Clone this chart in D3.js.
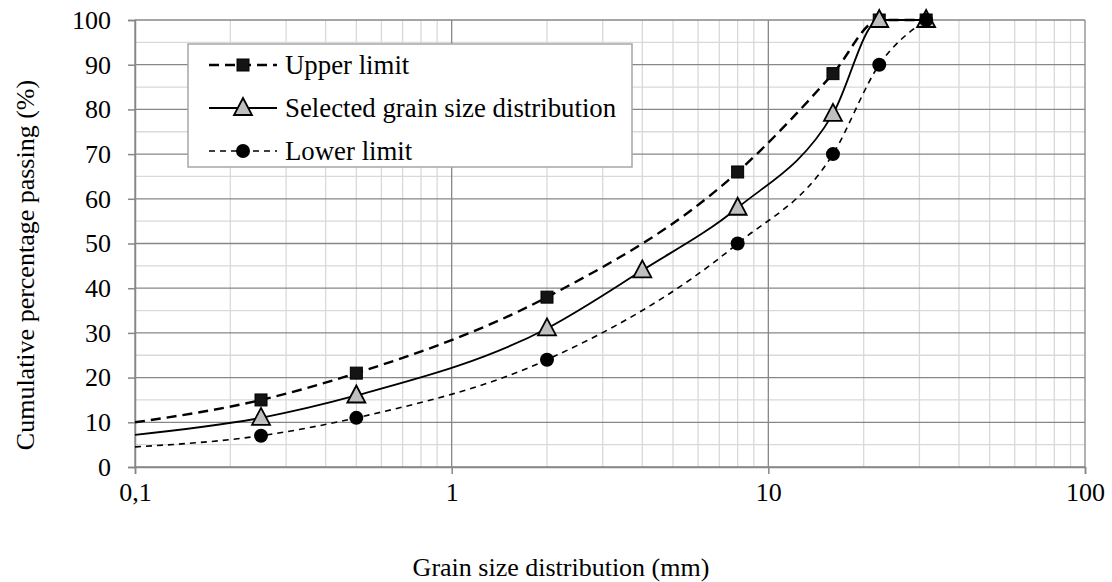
<!DOCTYPE html>
<html>
<head>
<meta charset="utf-8">
<script src="https://cdn.jsdelivr.net/npm/d3@7"></script>
<style>
  body { margin: 0; background: #fff; }
</style>
</head>
<body>
<svg width="1112" height="582"></svg>
<script>
// sieve sizes (mm) and percentages passing
var upperSizes = [0.25, 0.5, 2, 8, 16, 22.4, 31.5];
var upperValues = [15, 21, 38, 66, 88, 100, 100];
var selSizes = [0.25, 0.5, 2, 4, 8, 16, 22.4, 31.5];
var selValues = [11, 16, 31, 44, 58, 79, 100, 100];
var lowerSizes = [0.25, 0.5, 2, 8, 16, 22.4, 31.5];
var lowerValues = [7, 11, 24, 50, 70, 90, 100];
// where each curve enters the chart at 0.1 mm (no marker drawn there)
var startSize = 0.1;
var startValues = [10, 7.2, 4.5];

var xTicks = [0.1, 1, 10, 100];
var yTicks = [0, 10, 20, 30, 40, 50, 60, 70, 80, 90, 100];
var legendLabels = ["Upper limit", "Selected grain size distribution", "Lower limit"];

var svg = d3.select("svg");

var pLeft = 135, pRight = 1085, pTop = 20, pBottom = 467;
var fontSize = 26;
var fontFam = "Liberation Serif";

var xScale = d3.scaleLog().base(10)
      .domain([0.1, 100])
      .range([pLeft, pRight]);
var yScale = d3.scaleLinear()
      .domain([0, 100])
      .range([pBottom, pTop]);

var major = "#878787", minor = "#d9d9d9";

// minor grid
svg.append("g").selectAll("line")
      .data(xScale.ticks().filter(d => xTicks.indexOf(d) < 0))
      .enter().append("line")
      .attr("x1", d => xScale(d)).attr("x2", d => xScale(d))
      .attr("y1", pTop).attr("y2", pBottom)
      .attr("stroke", minor).attr("stroke-width", 1.3);
svg.append("g").selectAll("line")
      .data(d3.range(5, 100, 10))
      .enter().append("line")
      .attr("x1", pLeft).attr("x2", pRight)
      .attr("y1", d => yScale(d)).attr("y2", d => yScale(d))
      .attr("stroke", minor).attr("stroke-width", 1.3);

// major grid
svg.append("g").selectAll("line")
      .data(xTicks)
      .enter().append("line")
      .attr("x1", d => xScale(d)).attr("x2", d => xScale(d))
      .attr("y1", pTop).attr("y2", pBottom)
      .attr("stroke", major).attr("stroke-width", 1.3);
svg.append("g").selectAll("line")
      .data(yTicks)
      .enter().append("line")
      .attr("x1", pLeft).attr("x2", pRight)
      .attr("y1", d => yScale(d)).attr("y2", d => yScale(d))
      .attr("stroke", major).attr("stroke-width", 1.3);

var fmt = d => String(d).replace(".", ",");

var xAxis = d3.axisBottom(xScale)
      .tickValues(xTicks)
      .tickFormat(fmt)
      .tickSize(7).tickPadding(9);
var yAxis = d3.axisLeft(yScale)
      .tickValues(yTicks)
      .tickSize(7).tickPadding(17);

var gx = svg.append("g")
      .attr("transform", "translate(0," + pBottom + ")")
      .call(xAxis);
var gy = svg.append("g")
      .attr("transform", "translate(" + pLeft + ",0)")
      .call(yAxis);
[gx, gy].forEach(function (g) {
  g.attr("font-family", fontFam).attr("font-size", fontSize);
  g.select(".domain").attr("stroke", major).attr("stroke-width", 1.5);
  g.selectAll(".tick line").attr("stroke", major).attr("stroke-width", 1.5);
  g.selectAll(".tick text").attr("fill", "#000");
});

// curves
var line = d3.line()
      .x(d => xScale(d[0]))
      .y(d => yScale(d[1]))
      .curve(d3.curveMonotoneX);

var series = [
  { sizes: upperSizes, values: upperValues, start: startValues[0], dash: "10,6", width: 2.4 },
  { sizes: selSizes, values: selValues, start: startValues[1], dash: null, width: 1.8 },
  { sizes: lowerSizes, values: lowerValues, start: startValues[2], dash: "6,5", width: 1.6 }
];

series.forEach(function (s) {
  var pts = [[startSize, s.start]].concat(s.sizes.map((x, i) => [x, s.values[i]]));
  svg.append("path")
    .datum(pts)
    .attr("d", line)
    .attr("fill", "none")
    .attr("stroke", "#000")
    .attr("stroke-width", s.width)
    .attr("stroke-dasharray", s.dash);
});

function drawSquare(g, x, y) {
  g.append("rect").attr("x", x - 6).attr("y", y - 6)
    .attr("width", 12).attr("height", 12)
    .attr("fill", "#141414").attr("stroke", "#000").attr("stroke-width", 1);
}
function drawTriangle(g, x, y) {
  g.append("path")
    .attr("d", "M" + x + "," + (y - 10) + "L" + (x + 9) + "," + (y + 7) + "L" + (x - 9) + "," + (y + 7) + "Z")
    .attr("fill", "#bfbfbf").attr("stroke", "#000").attr("stroke-width", 1.8);
}
function drawCircle(g, x, y) {
  g.append("circle").attr("cx", x).attr("cy", y).attr("r", 7)
    .attr("fill", "#000");
}

var markerFns = [drawSquare, drawTriangle, drawCircle];
var mg = svg.append("g");
series.forEach(function (s, k) {
  s.sizes.forEach(function (x, i) {
    markerFns[k](mg, xScale(x), yScale(s.values[i]));
  });
});

// axis titles
svg.append("text")
  .attr("transform", "translate(25,265) rotate(-90)")
  .attr("text-anchor", "middle")
  .attr("dy", "0.33em")
  .text("Cumulative percentage passing (%)");
svg.append("text")
  .attr("x", 561)
  .attr("y", 567)
  .attr("text-anchor", "middle")
  .attr("dy", "0.33em")
  .text("Grain size distribution (mm)");

svg.selectAll("text")
  .attr("font-family", fontFam)
  .attr("font-size", fontSize)
  .attr("fill", "#000");

// legend
var lg = svg.append("g");
lg.append("rect")
  .attr("x", 188).attr("y", 44).attr("width", 444).attr("height", 123)
  .attr("fill", "#fff").attr("stroke", "#a6a6a6").attr("stroke-width", 1.5);
var rowY = [65, 108, 151];
legendLabels.forEach(function (name, k) {
  var s = series[k];
  lg.append("line")
    .attr("x1", 209).attr("x2", 277)
    .attr("y1", rowY[k]).attr("y2", rowY[k])
    .attr("stroke", "#000").attr("stroke-width", s.width)
    .attr("stroke-dasharray", s.dash);
  markerFns[k](lg, 243, rowY[k]);
  lg.append("text")
    .attr("x", 285).attr("y", rowY[k])
    .attr("dy", "0.33em")
    .attr("font-family", fontFam)
    .attr("font-size", 26.8)
    .attr("fill", "#000")
    .text(name);
});
</script>
</body>
</html>
